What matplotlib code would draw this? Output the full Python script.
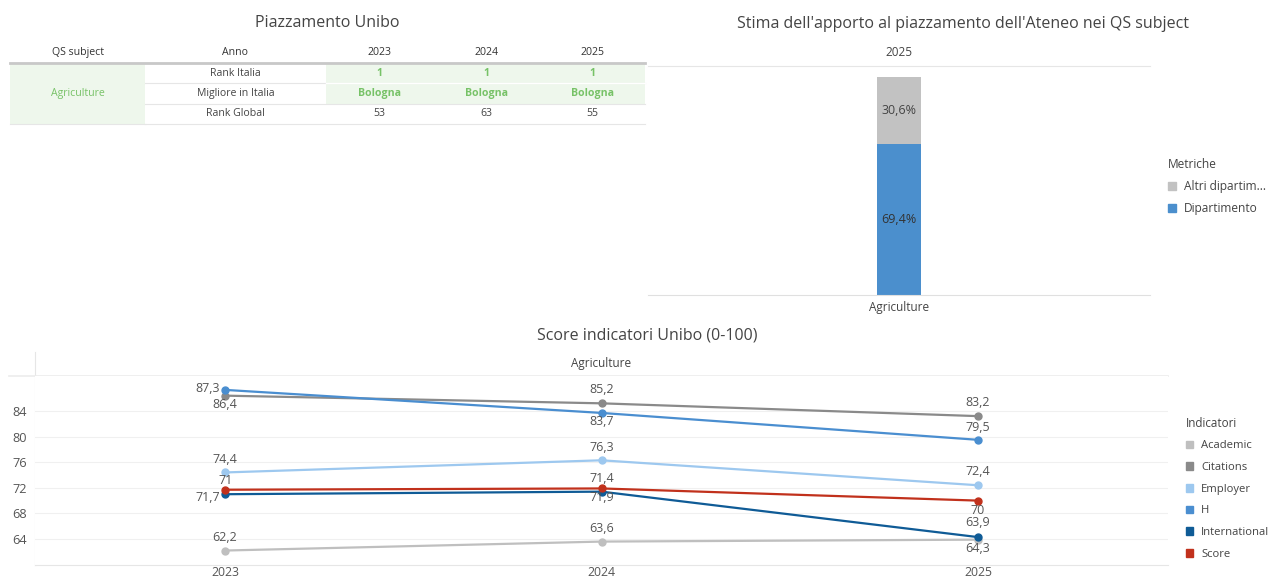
import matplotlib
matplotlib.use("Agg")
import matplotlib.pyplot as plt
from matplotlib.patches import Patch, Rectangle

plt.rcParams['font.family'] = ['Open Sans', 'DejaVu Sans']

# --- dati tabella ---
table_header = ["QS subject", "Anno", "2023", "2024", "2025"]
subject = "Agriculture"
row_names = ["Rank Italia", "Migliore in Italia", "Rank Global"]
rank_italia = ["1", "1", "1"]
migliore_italia = ["Bologna", "Bologna", "Bologna"]
rank_global = ["53", "63", "55"]

# --- dati barra ---
bar_category = ["Agriculture"]
bar_year = "2025"
metriche = ["Altri dipartim...", "Dipartimento"]
dipartimento = [69.4]
altri = [30.6]

# --- dati linee ---
anni = ["2023", "2024", "2025"]
indicatori = ["Academic", "Citations", "Employer", "H", "International", "Score"]
academic = [62.2, 63.6, 63.9]
citations = [86.4, 85.2, 83.2]
employer = [74.4, 76.3, 72.4]
h_index = [87.3, 83.7, 79.5]
international = [71.0, 71.4, 64.3]
score = [71.7, 71.9, 70.0]

colori = ["#bfbfbf", "#8a8a8a", "#9dc8ef", "#4a8ed0", "#0f5b96", "#c1311c"]
green = "#77c267"
green_fill = "#eef7ec"
txt = "#444444"

W, H = 1270, 579
fig = plt.figure(figsize=(W / 100, H / 100), dpi=100)

# overlay in coordinate pixel per tabella e titoli
ov = fig.add_axes([0, 0, 1, 1])
ov.set_xlim(0, W)
ov.set_ylim(H, 0)
ov.axis('off')

ov.text(327, 23, "Piazzamento Unibo", ha='center', va='center', fontsize=11.5, color=txt)
ov.text(963, 24, "Stima dell'apporto al piazzamento dell'Ateneo nei QS subject",
        ha='center', va='center', fontsize=11.5, color=txt)
ov.text(647, 335, "Score indicatori Unibo (0-100)", ha='center', va='center',
        fontsize=11.5, color=txt)

# tabella
col_edges = [10, 145, 326, 433, 540, 645]
row_edges = [42, 63, 83, 104, 124]
col_c = [(col_edges[i] + col_edges[i + 1]) / 2 for i in range(5)]
row_c = [(row_edges[i] + row_edges[i + 1]) / 2 for i in range(4)]

ov.add_patch(Rectangle((col_edges[0], row_edges[1]), col_edges[1] - col_edges[0],
                       row_edges[4] - row_edges[1], color=green_fill, lw=0))
ov.add_patch(Rectangle((col_edges[2], row_edges[1]), col_edges[5] - col_edges[2],
                       row_edges[3] - row_edges[1], color=green_fill, lw=0))
for i, h in enumerate(table_header):
    ov.text(col_c[i], row_c[0], h, ha='center', va='center', fontsize=7.6, color="#333333")
ov.plot([col_edges[0], col_edges[5]], [row_edges[1], row_edges[1]], color="#c8c8c8", lw=2)
for y in row_edges[2:]:
    ov.plot([col_edges[1], col_edges[5]], [y, y], color="#e6e6e6", lw=0.8)
ov.plot([col_edges[2], col_edges[5]], [row_edges[2], row_edges[2]], color="white", lw=1)
ov.plot([col_edges[0], col_edges[1]], [row_edges[4], row_edges[4]], color="#e6e6e6", lw=0.8)
ov.text(col_c[0], (row_edges[1] + row_edges[4]) / 2, subject, ha='center', va='center',
        fontsize=7.6, color=green)
righe = [rank_italia, migliore_italia, rank_global]
for r, name in enumerate(row_names):
    ov.text(col_c[1], row_c[r + 1], name, ha='center', va='center', fontsize=7.6, color="#444444")
    for j, v in enumerate(righe[r]):
        if r < 2:
            ov.text(col_c[j + 2], row_c[r + 1], v, ha='center', va='center', fontsize=7.6,
                    color=green, fontweight='bold')
        else:
            ov.text(col_c[j + 2], row_c[r + 1], v, ha='center', va='center', fontsize=7.6,
                    color="#444444")

# --- grafico a barre ---
axb = fig.add_axes([648 / W, 1 - 295 / H, 502 / W, 229 / H])
axb.bar(bar_category, dipartimento, width=0.086, color="#4b8fcd")
axb.bar(bar_category, altri, bottom=dipartimento, width=0.086, color="#c2c2c2")
axb.text(0, dipartimento[0] / 2, "69,4%", ha='center', va='center', fontsize=9, color="#333333")
axb.text(0, dipartimento[0] + altri[0] / 2, "30,6%", ha='center', va='center', fontsize=9,
         color="#444444")
axb.set_xlim(-0.5, 0.5)
axb.set_ylim(0, 105.05)
axb.set_yticks([])
for s in ['left', 'right']:
    axb.spines[s].set_visible(False)
axb.spines['top'].set_color("#e6e6e6")
axb.spines['bottom'].set_color("#e0e0e0")
axb.tick_params(axis='x', length=0, pad=4, labelsize=8.5, labelcolor="#444444")
ov.text(899, 53, bar_year, ha='center', va='center', fontsize=8.5, color="#444444")

fig.legend(handles=[Patch(color="#c2c2c2", label=metriche[0]),
                    Patch(color="#4b8fcd", label=metriche[1])],
           title="Metriche", loc='upper left', bbox_to_anchor=(1162 / W, 1 - 152 / H),
           frameon=False, fontsize=8.6, title_fontsize=8.6, alignment='left',
           handlelength=0.65, handleheight=0.65, handletextpad=0.7, labelspacing=0.75,
           borderpad=0, labelcolor="#444444")
fig.legends[-1].get_title().set_color("#444444")

# --- grafico a linee ---
axl = fig.add_axes([35 / W, 1 - 565 / H, 1133 / W, 189 / H])
serie = [academic, citations, employer, h_index, international, score]
xs = list(range(len(anni)))
for vals, c in zip(serie, colori):
    axl.plot(xs, vals, color=c, lw=1.6, marker='o', markersize=5)

offsets = [
    [(0, 13, 'center'), (0, 13, 'center'), (0, 17, 'center')],
    [(0, -9, 'center'), (0, 14, 'center'), (0, 14, 'center')],
    [(0, 13, 'center'), (0, 13, 'center'), (0, 14, 'center')],
    [(-5, 1, 'right'), (0, -9, 'center'), (0, 12, 'center')],
    [(0, 14, 'center'), (0, 13, 'center'), (0, -11, 'center')],
    [(-5, -8, 'right'), (0, -9, 'center'), (0, -10, 'center')],
]
for vals, offs in zip(serie, offsets):
    for x, v, (dx, dy, ha) in zip(xs, vals, offs):
        lab = ("%g" % v).replace('.', ',')
        axl.annotate(lab, (x, v), xytext=(dx, dy), textcoords='offset pixels',
                     ha=ha, va='center', fontsize=9, color="#555555")

axl.set_xlim(-0.505, 2.505)
axl.set_ylim(59.94, 89.47)
axl.set_yticks([64, 68, 72, 76, 80, 84])
axl.set_xticks(xs)
axl.set_xticklabels(anni)
axl.grid(axis='y', color="#f0f0f0", lw=0.8)
axl.set_axisbelow(True)
for s in ['right', 'top', 'left']:
    axl.spines[s].set_visible(False)
axl.spines['bottom'].set_color("#e6e6e6")
axl.tick_params(axis='both', length=0, labelsize=9.2, labelcolor="#555555")
axl.tick_params(axis='y', pad=6)
axl.tick_params(axis='x', pad=0.5, labelsize=8.8)

ov.plot([35, 35], [352, 565], color="#e6e6e6", lw=0.8)
ov.plot([9, 1168], [376, 376], color="#ececec", lw=1.2)
ov.text(601, 363, subject, ha='center', va='center', fontsize=8.5, color="#444444")

fig.legend(handles=[Patch(color=c, label=n) for n, c in zip(indicatori, colori)],
           title="Indicatori", loc='upper left', bbox_to_anchor=(1180 / W, 1 - 411 / H),
           frameon=False, fontsize=8.1, title_fontsize=8.4, alignment='left',
           handlelength=0.68, handleheight=0.68, handletextpad=0.7, labelspacing=0.95,
           borderpad=0, labelcolor="#444444")
fig.legends[-1].get_title().set_color("#444444")

fig.savefig("out.png", dpi=100)
